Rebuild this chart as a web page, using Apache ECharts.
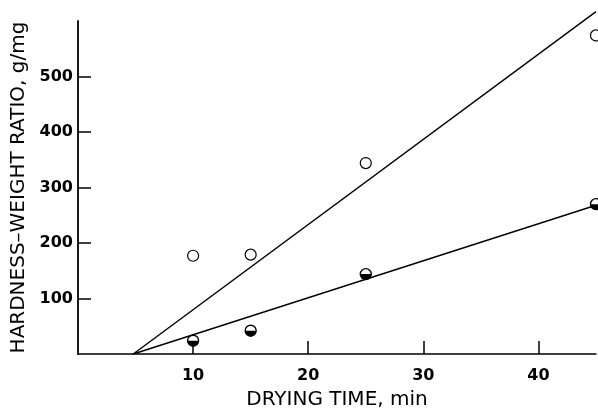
<!DOCTYPE html>
<html>
<head>
<meta charset="utf-8">
<script src="https://cdn.jsdelivr.net/npm/echarts@6/dist/echarts.min.js"></script>
<style>html,body{margin:0;padding:0;background:#fff;}#c{width:598px;height:415px;}</style>
</head>
<body>
<div id="c"></div>
<script>
const xTicks = [10, 20, 30, 40];
const yTicks = [100, 200, 300, 400, 500];
const dryingTime = [10, 15, 25, 45];
const openRatio = [177, 179, 344, 574];
const halfRatio = [24, 42, 144, 270];
const fitTime = [4.8, 45];
const openFit = [0, 617];
const halfFit = [0, 268];
const xName = 'DRYING TIME, min';
const yName = 'HARDNESS\u2013WEIGHT RATIO, g/mg';

const pairs = (xs, ys) => xs.map((x, i) => [x, ys[i]]);
const labelFont = { color: '#000', fontFamily: 'DejaVu Sans', fontWeight: 'bold', fontSize: 16 };
const nameFont = { color: '#000', fontFamily: 'DejaVu Sans', fontSize: 20 };

const chart = echarts.init(document.getElementById('c'), null, { renderer: 'canvas' });
chart.setOption({
  animation: false,
  backgroundColor: '#fff',
  grid: { left: 78, right: 2, top: 21, bottom: 51, containLabel: false },
  xAxis: {
    type: 'value', min: 0, max: 45, interval: 10,
    name: xName, nameLocation: 'middle', nameGap: 36, nameTextStyle: nameFont,
    splitLine: { show: false },
    axisLine: { onZero: false, lineStyle: { color: '#000', width: 1.5 } },
    axisTick: { inside: true, length: 13, customValues: xTicks, lineStyle: { color: '#000', width: 1.5 } },
    axisLabel: Object.assign({ margin: 14, customValues: xTicks }, labelFont)
  },
  yAxis: {
    type: 'value', min: 0, max: 600, interval: 100,
    name: yName, nameLocation: 'middle', nameGap: 46, nameTextStyle: nameFont,
    splitLine: { show: false },
    axisLine: { onZero: false, lineStyle: { color: '#000', width: 1.8 } },
    axisTick: { inside: true, length: 13, customValues: yTicks, lineStyle: { color: '#000', width: 1.5 } },
    axisLabel: Object.assign({ margin: 5, customValues: yTicks }, labelFont)
  },
  series: [
    { type: 'line', data: pairs(fitTime, openFit), symbol: 'none', clip: false,
      lineStyle: { color: '#000', width: 1.4 }, z: 2 },
    { type: 'line', data: pairs(fitTime, halfFit), symbol: 'none', clip: false,
      lineStyle: { color: '#000', width: 1.4 }, z: 2 },
    { type: 'scatter', data: pairs(dryingTime, openRatio), symbol: 'circle', symbolSize: 11,
      itemStyle: { color: '#fff', borderColor: '#000', borderWidth: 1.2, opacity: 1 }, z: 3 },
    { type: 'scatter', data: pairs(dryingTime, halfRatio), symbol: 'circle', symbolSize: 11,
      itemStyle: { color: '#fff', borderColor: '#000', borderWidth: 1.4, opacity: 1 }, z: 3 },
    { type: 'scatter', data: pairs(dryingTime, halfRatio), symbol: 'path://M0,0 A10,10 0 0 0 20,0 Z',
      symbolSize: [11, 5.5], symbolOffset: [0, 2.75],
      itemStyle: { color: '#000', opacity: 1 }, z: 4 }
  ]
});
</script>
</body>
</html>
